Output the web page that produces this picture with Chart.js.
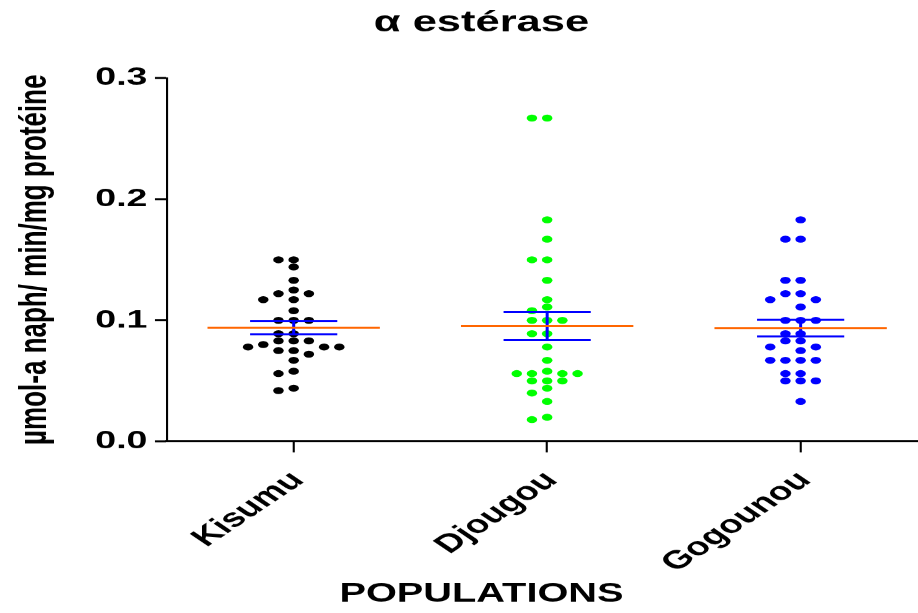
<!DOCTYPE html>
<html lang="fr">
<head>
<meta charset="utf-8">
<title>α estérase</title>
<script src="https://cdn.jsdelivr.net/npm/chart.js@4.4.1/dist/chart.umd.min.js"></script>
<style>
    html, body { margin: 0; padding: 0; background: #fff; overflow: hidden; }
    /* chart is laid out narrow and stretched sideways, like the exported figure */
    #wrap { width: 612px; height: 613px; transform: scaleX(1.5); transform-origin: 0 0; }
</style>
</head>
<body>
<div id="wrap"><canvas id="chart-1"></canvas></div>
<script>
const populations = ['Kisumu', 'Djougou', 'Gogounou'];
const dotColors = ['#000000', '#00ff00', '#0000ff'];

// alpha esterase activity, one value per mosquito
const kisumu = [0.150, 0.150, 0.144, 0.133, 0.125, 0.122, 0.122, 0.117, 0.117, 0.108,
    0.100, 0.100, 0.100, 0.089, 0.089, 0.083, 0.083, 0.083, 0.080, 0.078,
    0.078, 0.078, 0.075, 0.075, 0.072, 0.067, 0.058, 0.056, 0.044, 0.042];
const djougou = [0.267, 0.267, 0.183, 0.167, 0.150, 0.150, 0.133, 0.117, 0.111, 0.108,
    0.100, 0.100, 0.100, 0.089, 0.089, 0.078, 0.067, 0.058, 0.056, 0.056,
    0.056, 0.056, 0.050, 0.050, 0.050, 0.044, 0.040, 0.033, 0.020, 0.018];
const gogounou = [0.183, 0.167, 0.167, 0.133, 0.133, 0.122, 0.122, 0.117, 0.117, 0.111,
    0.100, 0.100, 0.100, 0.089, 0.089, 0.083, 0.083, 0.078, 0.078, 0.075,
    0.067, 0.067, 0.067, 0.067, 0.056, 0.056, 0.050, 0.050, 0.050, 0.033];
const yTicks = [0, 0.1, 0.2, 0.3];

const groups = [kisumu, djougou, gogounou];

const FONT = "'Liberation Sans', Arial, sans-serif";
const SLOT = 0.06;       // horizontal step between dots of a same row
const ROW_GAP = 0.0055;  // two dots closer than this can't share a slot
const MEAN_W = 0.34;
const SEM_W = 0.172;

const mean = a => a.reduce((s, v) => s + v, 0) / a.length;
const sem = a => {
    const m = mean(a);
    const sd = Math.sqrt(a.reduce((s, v) => s + (v - m) ** 2, 0) / (a.length - 1));
    return sd / Math.sqrt(a.length);
};

// simple beeswarm: highest first, take the nearest free slot around the centre
function swarm(values, center) {
    const placed = [];
    return values.slice().sort((a, b) => b - a).map(v => {
        let k = 0;
        for (let step = 0; ; step++) {
            k = step === 0 ? 0 : (step % 2 ? -Math.ceil(step / 2) : step / 2);
            if (!placed.some(p => p.k === k && Math.abs(p.v - v) < ROW_GAP)) break;
        }
        placed.push({k, v});
        return {x: center + k * SLOT, y: v};
    });
}

const datasets = [];
groups.forEach((values, i) => {
    const m = mean(values);
    const e = sem(values);
    datasets.push({
        data: [{x: i - MEAN_W, y: m}, {x: i + MEAN_W, y: m}],
        showLine: true, borderColor: '#ff6600', borderWidth: 2, pointRadius: 0, order: 0
    });
    datasets.push({
        data: [
            {x: i - SEM_W, y: m + e}, {x: i + SEM_W, y: m + e}, {x: i + SEM_W, y: null},
            {x: i, y: m + e}, {x: i, y: m - e}, {x: i, y: null},
            {x: i - SEM_W, y: m - e}, {x: i + SEM_W, y: m - e}
        ],
        showLine: true, spanGaps: false, borderColor: '#0000ff', borderWidth: 2, pointRadius: 0, order: 0
    });
    datasets.push({
        label: populations[i],
        data: swarm(values, i),
        backgroundColor: dotColors[i],
        borderColor: dotColors[i],
        borderWidth: 0,
        pointRadius: 3.5,
        order: 1
    });
});

Chart.defaults.font.family = FONT;
Chart.defaults.color = '#000';

const ctx = document.getElementById('chart-1').getContext('2d');
new Chart(ctx, {
    type: 'scatter',
    data: {datasets: datasets},
    options: {
        responsive: true,
        maintainAspectRatio: false,
        devicePixelRatio: 1.5,
        animation: false,
        // negative right padding shifts the centred titles to the left
        layout: {autoPadding: false, padding: {left: 0, right: -30, top: 0, bottom: 0}},
        plugins: {
            legend: {display: false},
            tooltip: {enabled: false},
            title: {
                display: true,
                text: 'α estérase',
                font: {size: 29, weight: 'bold'},
                padding: {top: 5.6, bottom: 37.6}
            },
            subtitle: {
                display: true,
                position: 'bottom',
                text: 'POPULATIONS',
                font: {size: 26.5, weight: 'bold'},
                padding: {top: 0, bottom: 3}
            }
        },
        scales: {
            x: {
                type: 'linear',
                min: -0.5,
                max: 2.463,
                afterBuildTicks: scale => { scale.ticks = populations.map((p, i) => ({value: i})); },
                afterFit: scale => {
                    scale.height = 137;
                    scale.paddingRight = 0;
                },
                ticks: {
                    autoSkip: false,
                    minRotation: 45,
                    maxRotation: 45,
                    padding: 13,
                    labelOffset: 3,
                    font: {size: 25.5, weight: 'bold'},
                    callback: v => populations[v]
                },
                grid: {drawOnChartArea: false, drawTicks: true, tickLength: 11, tickWidth: 1.4, tickColor: '#000'},
                border: {display: true, color: '#000', width: 2}
            },
            y: {
                min: 0,
                max: 0.3,
                afterBuildTicks: scale => { scale.ticks = yTicks.map(v => ({value: v})); },
                afterFit: scale => { scale.width = 111.3; },
                ticks: {
                    padding: 5,
                    font: {size: 25, weight: 'bold'},
                    callback: v => v.toFixed(1)
                },
                title: {
                    display: true,
                    text: 'µmol-a naph/ min/mg protéine',
                    font: {size: 26, weight: 'bold'},
                    padding: {top: 8, bottom: 0}
                },
                grid: {drawOnChartArea: false, drawTicks: true, tickLength: 8, tickWidth: 2, tickColor: '#000'},
                border: {display: true, color: '#000', width: 1.4}
            }
        }
    }
});
</script>
</body>
</html>
